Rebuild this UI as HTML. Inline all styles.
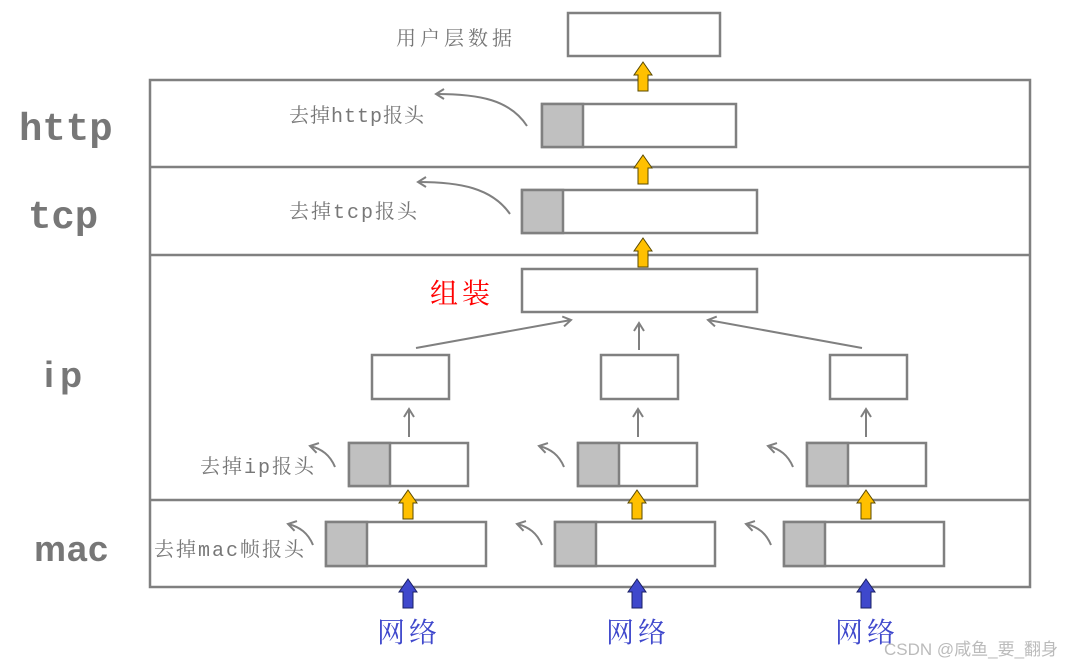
<!DOCTYPE html>
<html><head><meta charset="utf-8"><style>
html,body{margin:0;padding:0;background:#fff;}
svg{display:block;}
.cn{font-family:"Liberation Mono","Noto Serif CJK SC",monospace;fill:#777;}
</style></head><body>
<svg width="1091" height="666" viewBox="0 0 1091 666" xmlns="http://www.w3.org/2000/svg">
<defs>
<marker id="ah" markerWidth="12" markerHeight="12" refX="9" refY="6" orient="auto" markerUnits="userSpaceOnUse">
<path d="M1,1 L9,6 L1,11" fill="none" stroke="#808080" stroke-width="2"/>
</marker>
<g id="ya"><polygon points="0,0 9,13 5,13 5,29 -5,29 -5,13 -9,13" fill="#ffc000" stroke="#5a4a00" stroke-width="1"/></g>
<g id="ba"><polygon points="0,0 9,13 5,13 5,29 -5,29 -5,13 -9,13" fill="#3f48cc" stroke="#1a1f66" stroke-width="1"/></g>
</defs>
<g fill="none" stroke="#808080" stroke-width="2.5">
<rect x="150" y="80" width="880" height="507"/>
<line x1="150" y1="167" x2="1030" y2="167"/>
<line x1="150" y1="255" x2="1030" y2="255"/>
<line x1="150" y1="500" x2="1030" y2="500"/>
</g>
<g stroke="#808080" stroke-width="2.5" fill="#fff">
<rect x="568" y="13" width="152" height="43"/>
<rect x="542" y="104" width="194" height="43"/>
<rect x="522" y="190" width="235" height="43"/>
<rect x="522" y="269" width="235" height="43"/>
<rect x="372" y="355" width="77" height="44"/>
<rect x="601" y="355" width="77" height="44"/>
<rect x="830" y="355" width="77" height="44"/>
<rect x="349" y="443" width="119" height="43"/>
<rect x="578" y="443" width="119" height="43"/>
<rect x="807" y="443" width="119" height="43"/>
<rect x="326" y="522" width="160" height="44"/>
<rect x="555" y="522" width="160" height="44"/>
<rect x="784" y="522" width="160" height="44"/>
</g>
<g stroke="#808080" stroke-width="2.5" fill="#c0c0c0">
<rect x="542" y="104" width="41" height="43"/>
<rect x="522" y="190" width="41" height="43"/>
<rect x="349" y="443" width="41" height="43"/>
<rect x="578" y="443" width="41" height="43"/>
<rect x="807" y="443" width="41" height="43"/>
<rect x="326" y="522" width="41" height="44"/>
<rect x="555" y="522" width="41" height="44"/>
<rect x="784" y="522" width="41" height="44"/>
</g>
<g stroke="#808080" stroke-width="2" fill="none" marker-end="url(#ah)">
<line x1="416" y1="348" x2="571" y2="320"/>
<line x1="639" y1="350" x2="639" y2="323"/>
<line x1="862" y1="348" x2="708" y2="320"/>
<line x1="409" y1="437" x2="409" y2="409"/>
<line x1="638" y1="437" x2="638" y2="409"/>
<line x1="866" y1="437" x2="866" y2="409"/>
<path d="M527,126 C510,100 480,94 436,94"/>
<path d="M510,214 C492,188 460,182 418,182"/>
<path d="M335,467 C330,455 322,449 310,446"/>
<path d="M564,467 C559,455 551,449 539,446"/>
<path d="M793,467 C788,455 780,449 768,446"/>
<path d="M313,545 C308,533 300,527 288,524"/>
<path d="M542,545 C537,533 529,527 517,524"/>
<path d="M771,545 C766,533 758,527 746,524"/>
</g>
<use href="#ya" x="643" y="62"/>
<use href="#ya" x="643" y="155"/>
<use href="#ya" x="643" y="238"/>
<use href="#ya" x="408" y="490"/>
<use href="#ya" x="637" y="490"/>
<use href="#ya" x="866" y="490"/>
<use href="#ba" x="408" y="579"/>
<use href="#ba" x="637" y="579"/>
<use href="#ba" x="866" y="579"/>
<g font-family="Liberation Mono, monospace" font-weight="bold" fill="#777" font-size="39">
<text x="19" y="140">http</text>
<text x="28" y="228">tcp</text>
</g>
<g font-family="Liberation Sans, sans-serif" font-weight="bold" fill="#777" font-size="36">
<text x="44" y="387" letter-spacing="6">ip</text>
<text x="34" y="561" letter-spacing="1">mac</text>
</g>
<g class="cn" font-size="20">
<text x="396" y="45" letter-spacing="4" font-family="Liberation Serif,'Noto Serif CJK SC',serif">用户层数据</text>
<text x="289" y="122" letter-spacing="1">去掉http报头</text>
<text x="289" y="218" letter-spacing="2">去掉tcp报头</text>
<text x="200" y="473" letter-spacing="2">去掉ip报头</text>
<text x="154" y="556" letter-spacing="2">去掉mac帧报头</text>
</g>
<text x="430" y="303" font-family="Liberation Serif,'Noto Serif CJK SC',serif" font-size="28" fill="#ff0000" letter-spacing="4">组装</text>
<g font-family="Liberation Serif,'Noto Serif CJK SC',serif" font-size="28" fill="#3f48cc" letter-spacing="4">
<text x="377" y="642">网络</text>
<text x="606" y="642">网络</text>
<text x="835" y="642">网络</text>
</g>
<text x="884" y="655" font-family="Liberation Sans,'Noto Sans CJK SC',sans-serif" font-size="17" fill="#bbb">CSDN @咸鱼_要_翻身</text>
</svg>
</body></html>
